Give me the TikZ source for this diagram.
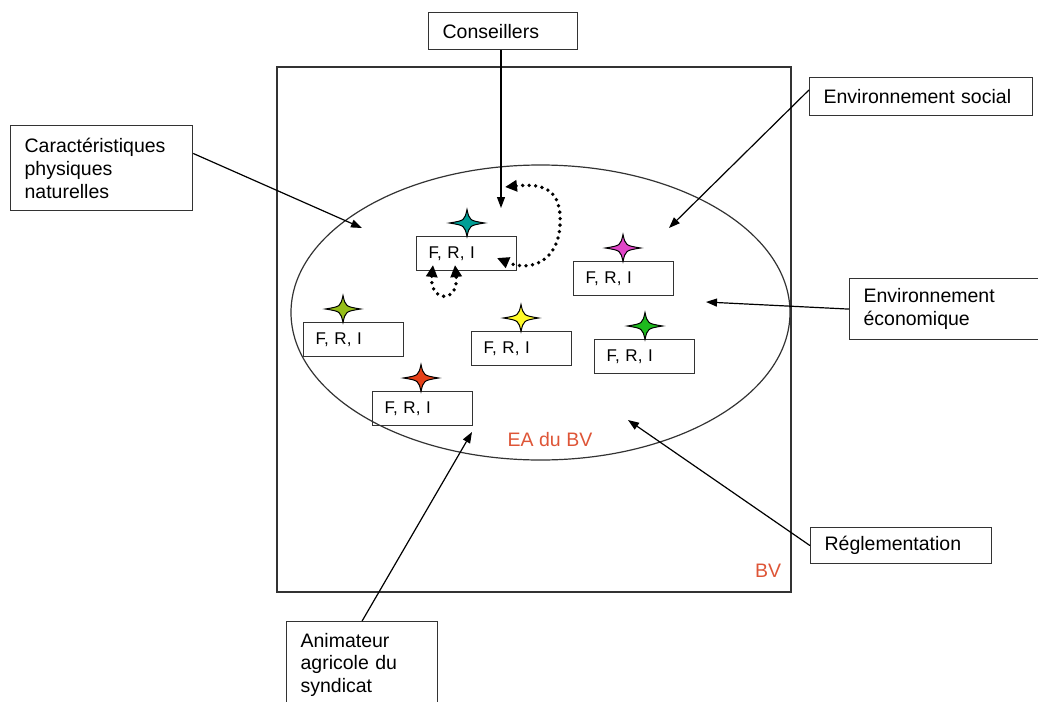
\documentclass[tikz,border=0pt]{standalone}
\usepackage{fontspec}
\setmainfont{Liberation Sans}
\usetikzlibrary{arrows.meta,calc}
\definecolor{cteal}{RGB}{0,158,150}
\definecolor{cmag}{RGB}{225,70,200}
\definecolor{clime}{RGB}{150,190,25}
\definecolor{cyel}{RGB}{255,250,40}
\definecolor{cgreen}{RGB}{30,185,30}
\definecolor{cred}{RGB}{230,65,25}
\definecolor{redlab}{RGB}{222,85,55}
\begin{document}
\begin{tikzpicture}[x=1pt,y=-1pt,
  lbl/.style={draw=black!80, line width=1.2pt, anchor=north west, align=left,
    inner xsep=14pt, inner ysep=0pt, font=\fontsize{19.5}{23}\selectfont},
  fri/.style={draw=black!80, line width=1.2pt, anchor=north west, align=left,
    inner xsep=12pt, inner ysep=0pt, text width=76pt, minimum height=34pt,
    font=\fontsize{17}{20}\selectfont},
  conn/.style={line width=1.2pt, -{Triangle[length=11pt,width=8pt]}},
  dotline/.style={line width=3.8pt, line cap=round, dash pattern=on 0pt off 6.5pt,
    {Triangle[length=12pt,width=11pt]}-{Triangle[length=12pt,width=11pt]}},
  redlbl/.style={text=redlab, font=\fontsize{19.5}{23}\selectfont, inner sep=0pt},
  pics/etoile/.style={code={
    \draw[line width=1pt, fill=#1] (-17.5,0) .. controls (-2.5,-2.5) .. (0,-13.5)
      .. controls (2.5,-2.5) .. (17.5,0) .. controls (2.5,2.5) .. (0,13.5)
      .. controls (-2.5,2.5) .. (-17.5,0) -- cycle;}}
]
\useasboundingbox (0,0) rectangle (1038,701);

% BV square and ellipse
\draw[line width=1.2pt, black!80] (277,67) rectangle (791,592);
\draw[line width=1.2pt, black!80] (540.5,312.5) ellipse [x radius=249.5pt, y radius=147.5pt];
\node[redlbl] (ea) at (550,440) {EA du BV};
\node[redlbl] (bv) at (768,571) {BV};

% outer label boxes
\node[lbl, text width=121pt, minimum height=37pt] (cons) at (428,12) {Conseillers};
\node[lbl, text width=195pt, minimum height=38pt] (soc) at (809,77) {Environnement social};
\node[lbl, text width=154pt, minimum height=85pt] (car) at (10,125) {Caractéristiques\\physiques\\naturelles};
\node[lbl, text width=172pt, minimum height=61pt] (eco) at (849,278) {Environnement\\économique};
\node[lbl, text width=153pt, minimum height=36pt] (reg) at (810,527) {Réglementation};
\node[lbl, text width=123pt, minimum height=86pt, font=\fontsize{19.5}{22.5}\selectfont] (anim) at (286,621) {Animateur\\agricole du\\syndicat};

% F,R,I boxes
\node[fri] (f1) at (416,236) {F, R, I};
\node[fri] (f2) at (573,261) {F, R, I};
\node[fri] (f3) at (303,322) {F, R, I};
\node[fri] (f4) at (471,331) {F, R, I};
\node[fri] (f5) at (594,339) {F, R, I};
\node[fri] (f6) at (372,391) {F, R, I};

% stars
\pic at (467,223) {etoile=cteal};
\pic at (623,248) {etoile=cmag};
\pic at (343,309) {etoile=clime};
\pic at (521,318) {etoile=cyel};
\pic at (645,326) {etoile=cgreen};
\pic at (421,378) {etoile=cred};

% connector tips
\coordinate (tcons) at (501,208);
\coordinate (tsoc) at (669,228);
\coordinate (tcar) at (362,228);
\coordinate (teco) at (706,302);
\coordinate (treg) at (628,420);
\coordinate (tanim) at (472,432);

\draw[conn] (cons.south -| tcons) -- (tcons);
\draw[conn] ($(soc.north west)!0.33!(soc.south west)$) -- (tsoc);
\draw[conn] ($(car.north east)!0.33!(car.south east)$) -- (tcar);
\draw[conn] (eco.west) -- (teco);
\draw[conn] (reg.west) -- (treg);
\draw[conn] (anim.north) -- (tanim);

% dotted loops
\coordinate (d1) at (505,187);
\coordinate (d2) at (497,258);
\coordinate (l1) at (433,265);
\coordinate (l2) at (455,265);
\draw[dotline] (d1) .. controls (545,183) and (562,190) .. (560,225)
  .. controls (558,262) and (530,272) .. (d2);
\draw[dotline] (l1) .. controls (429,302) and (459,304) .. (l2);
\end{tikzpicture}
\end{document}
